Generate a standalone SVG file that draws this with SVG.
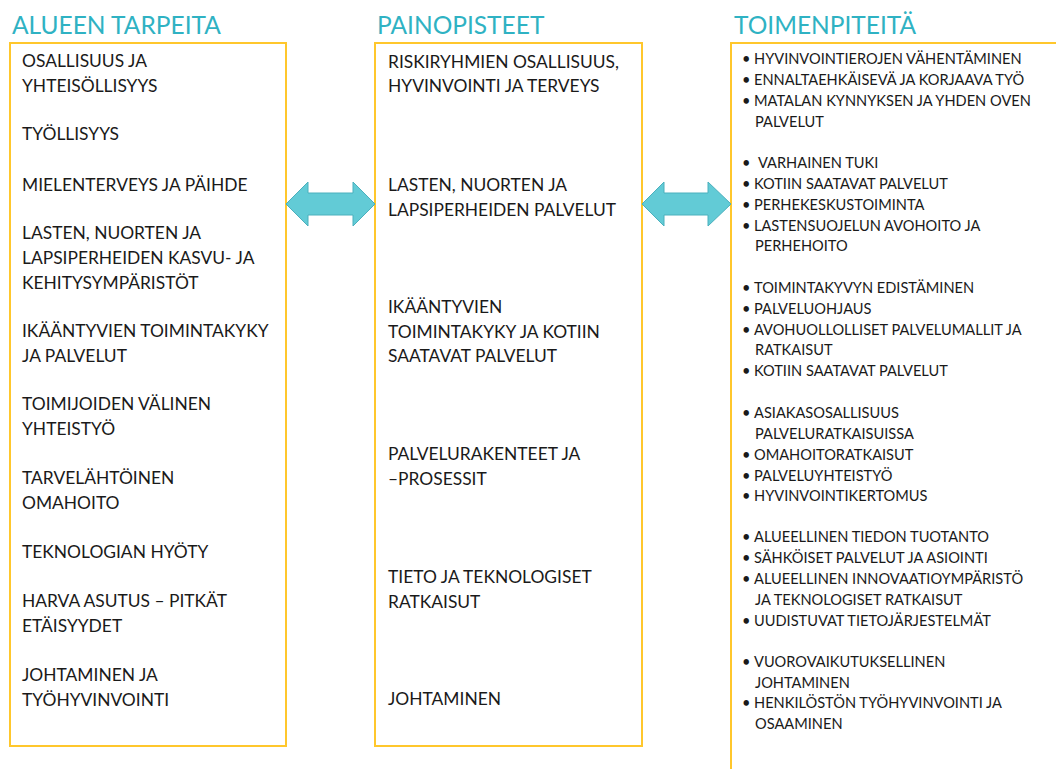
<svg xmlns="http://www.w3.org/2000/svg" width="1056" height="769" viewBox="0 0 1056 769">
  <style>
    .hdr { font-family: Lato, "Open Sans", sans-serif; font-size: 24.5px; fill: #2FB2C3; }
    .box { fill: #FFFFFF; stroke: #FFC72C; stroke-width: 2; }
    .txt { font-family: Lato, "Open Sans", sans-serif; font-size: 17.4px; fill: #1A1A1A; }
    .sm { font-family: Lato, "Open Sans", sans-serif; font-size: 14.6px; fill: #1A1A1A; }
    .arrow { fill: #62CBD6; stroke: #4BB0BD; stroke-width: 1; stroke-linejoin: miter; }
  </style>
  <rect width="1056" height="769" fill="#FFFFFF"/>

  <!-- column headers -->
  <text class="hdr" x="12" y="34">ALUEEN TARPEITA</text>
  <text class="hdr" x="377" y="34">PAINOPISTEET</text>
  <text class="hdr" x="734" y="34">TOIMENPITEITÄ</text>

  <!-- left column: regional needs -->
  <g id="needs">
    <rect class="box" x="10" y="43" width="276" height="703"/>
    <text class="txt">
      <tspan x="22" y="67">OSALLISUUS JA</tspan>
      <tspan x="22" y="92">YHTEISÖLLISYYS</tspan>
      <tspan x="22" y="140">TYÖLLISYYS</tspan>
      <tspan x="22" y="191">MIELENTERVEYS JA PÄIHDE</tspan>
      <tspan x="22" y="239">LASTEN, NUORTEN JA</tspan>
      <tspan x="22" y="264">LAPSIPERHEIDEN KASVU- JA</tspan>
      <tspan x="22" y="289">KEHITYSYMPÄRISTÖT</tspan>
      <tspan x="22" y="337">IKÄÄNTYVIEN TOIMINTAKYKY</tspan>
      <tspan x="22" y="362">JA PALVELUT</tspan>
      <tspan x="22" y="410">TOIMIJOIDEN VÄLINEN</tspan>
      <tspan x="22" y="435">YHTEISTYÖ</tspan>
      <tspan x="22" y="484">TARVELÄHTÖINEN</tspan>
      <tspan x="22" y="509">OMAHOITO</tspan>
      <tspan x="22" y="558">TEKNOLOGIAN HYÖTY</tspan>
      <tspan x="22" y="607">HARVA ASUTUS – PITKÄT</tspan>
      <tspan x="22" y="632">ETÄISYYDET</tspan>
      <tspan x="22" y="681">JOHTAMINEN JA</tspan>
      <tspan x="22" y="706">TYÖHYVINVOINTI</tspan>
    </text>
  </g>

  <!-- middle column: focus areas -->
  <g id="focus">
    <rect class="box" x="375" y="43" width="267" height="703"/>
    <text class="txt">
      <tspan x="388" y="68">RISKIRYHMIEN OSALLISUUS,</tspan>
      <tspan x="388" y="92">HYVINVOINTI JA TERVEYS</tspan>
      <tspan x="388" y="191">LASTEN, NUORTEN JA</tspan>
      <tspan x="388" y="216">LAPSIPERHEIDEN PALVELUT</tspan>
      <tspan x="388" y="313">IKÄÄNTYVIEN</tspan>
      <tspan x="388" y="338">TOIMINTAKYKY JA KOTIIN</tspan>
      <tspan x="388" y="362">SAATAVAT PALVELUT</tspan>
      <tspan x="388" y="460">PALVELURAKENTEET JA</tspan>
      <tspan x="388" y="485">–PROSESSIT</tspan>
      <tspan x="388" y="583">TIETO JA TEKNOLOGISET</tspan>
      <tspan x="388" y="608">RATKAISUT</tspan>
      <tspan x="388" y="705">JOHTAMINEN</tspan>
    </text>
  </g>

  <!-- right column: actions (bullets set apart from the item text) -->
  <g id="actions">
    <rect class="box" x="731" y="43" width="340" height="740"/>
    <text class="sm">
      <tspan x="742" y="64">•</tspan><tspan x="754">HYVINVOINTIEROJEN VÄHENTÄMINEN</tspan>
      <tspan x="742" y="85">•</tspan><tspan x="754">ENNALTAEHKÄISEVÄ JA KORJAAVA TYÖ</tspan>
      <tspan x="742" y="106">•</tspan><tspan x="754">MATALAN KYNNYKSEN JA YHDEN OVEN</tspan>
      <tspan x="755" y="127">PALVELUT</tspan>
      <tspan x="742" y="168">•</tspan><tspan x="758">VARHAINEN TUKI</tspan>
      <tspan x="742" y="189">•</tspan><tspan x="754">KOTIIN SAATAVAT PALVELUT</tspan>
      <tspan x="742" y="210">•</tspan><tspan x="754">PERHEKESKUSTOIMINTA</tspan>
      <tspan x="742" y="231">•</tspan><tspan x="754">LASTENSUOJELUN AVOHOITO JA</tspan>
      <tspan x="755" y="251">PERHEHOITO</tspan>
      <tspan x="742" y="293">•</tspan><tspan x="754">TOIMINTAKYVYN EDISTÄMINEN</tspan>
      <tspan x="742" y="314">•</tspan><tspan x="754">PALVELUOHJAUS</tspan>
      <tspan x="742" y="335">•</tspan><tspan x="754">AVOHUOLLOLLISET PALVELUMALLIT JA</tspan>
      <tspan x="755" y="355">RATKAISUT</tspan>
      <tspan x="742" y="376">•</tspan><tspan x="754">KOTIIN SAATAVAT PALVELUT</tspan>
      <tspan x="742" y="418">•</tspan><tspan x="754">ASIAKASOSALLISUUS</tspan>
      <tspan x="755" y="439">PALVELURATKAISUISSA</tspan>
      <tspan x="742" y="460">•</tspan><tspan x="754">OMAHOITORATKAISUT</tspan>
      <tspan x="742" y="481">•</tspan><tspan x="754">PALVELUYHTEISTYÖ</tspan>
      <tspan x="742" y="501">•</tspan><tspan x="754">HYVINVOINTIKERTOMUS</tspan>
      <tspan x="742" y="542">•</tspan><tspan x="754">ALUEELLINEN TIEDON TUOTANTO</tspan>
      <tspan x="742" y="563">•</tspan><tspan x="754">SÄHKÖISET PALVELUT JA ASIOINTI</tspan>
      <tspan x="742" y="584">•</tspan><tspan x="754">ALUEELLINEN INNOVAATIOYMPÄRISTÖ</tspan>
      <tspan x="755" y="605">JA TEKNOLOGISET RATKAISUT</tspan>
      <tspan x="742" y="626">•</tspan><tspan x="754">UUDISTUVAT TIETOJÄRJESTELMÄT</tspan>
      <tspan x="742" y="667">•</tspan><tspan x="754">VUOROVAIKUTUKSELLINEN</tspan>
      <tspan x="755" y="688">JOHTAMINEN</tspan>
      <tspan x="742" y="708">•</tspan><tspan x="754">HENKILÖSTÖN TYÖHYVINVOINTI JA</tspan>
      <tspan x="755" y="729">OSAAMINEN</tspan>
    </text>
  </g>

  <!-- double-headed links between the columns -->
  <g id="connectors">
    <path class="arrow" d="M286,204 L308,182 L308,193 L353,193 L353,182 L375,204 L353,226 L353,215 L308,215 L308,226 Z"/>
    <path class="arrow" d="M642,204 L664,182 L664,193 L708,193 L708,182 L731,204 L708,226 L708,215 L664,215 L664,226 Z"/>
  </g>
</svg>
